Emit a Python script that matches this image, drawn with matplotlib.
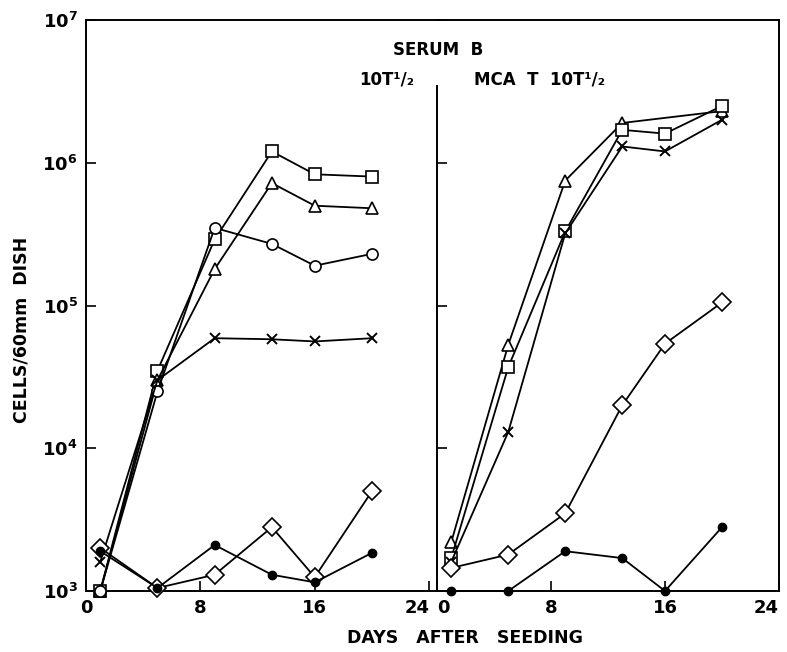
"""Growth curves of 10T1/2 and MCA T 10T1/2 cells in serum B."""

import matplotlib

matplotlib.use("Agg")
import matplotlib.pyplot as plt
import numpy as np

days = [1, 5, 9, 13, 16, 20]
days_no16 = [1, 5, 9, 13, 20]

# 10T1/2 panel
left_square = [1.0e3, 3.5e4, 2.9e5, 1.2e6, 8.3e5, 8.0e5]
left_triangle = [1.0e3, 3.0e4, 1.8e5, 7.2e5, 5.0e5, 4.8e5]
left_circle = [1.0e3, 2.5e4, 3.5e5, 2.7e5, 1.9e5, 2.3e5]
left_cross = [1.6e3, 3.0e4, 5.9e4, 5.8e4, 5.6e4, 5.9e4]
left_diamond = [2.0e3, 1.05e3, 1.3e3, 2.8e3, 1.25e3, 5.0e3]
left_filled = [1.9e3, 1.05e3, 2.1e3, 1.3e3, 1.15e3, 1.85e3]

# MCA T 10T1/2 panel
right_triangle = [2.2e3, 5.3e4, 7.5e5, 1.9e6, 2.3e6]
right_square = [1.7e3, 3.7e4, 3.3e5, 1.7e6, 1.6e6, 2.5e6]
right_cross = [1.6e3, 1.3e4, 3.2e5, 1.3e6, 1.2e6, 2.0e6]
right_diamond = [1.45e3, 1.8e3, 3.5e3, 2.0e4, 5.4e4, 1.05e5]
right_filled = [1.0e3, 1.0e3, 1.9e3, 1.7e3, 1.0e3, 2.8e3]

x_ticks = [0, 8, 16, 24]
y_ticks = [1e3, 1e4, 1e5, 1e6, 1e7]
y_tick_labels = [r"$\mathbf{10^{3}}$", r"$\mathbf{10^{4}}$", r"$\mathbf{10^{5}}$",
                 r"$\mathbf{10^{6}}$", r"$\mathbf{10^{7}}$"]

LW = 1.3
open_style = dict(color="black", lw=LW, markerfacecolor="white",
                  markeredgecolor="black", markeredgewidth=1.2, clip_on=False, zorder=3)
cross_style = dict(marker="x", ms=7, color="black", lw=LW, mew=1.4, clip_on=False, zorder=3)
dot_style = dict(marker="o", ms=6, color="black", lw=LW, clip_on=False, zorder=3)

fig = plt.figure(figsize=(7.87, 6.52), dpi=100)
W, H = 787, 652
x0, xd, x1 = 86, 437, 779
y_top, y_bot = 20, 591
ax_l = fig.add_axes([x0 / W, 1 - y_bot / H, (xd - x0) / W, (y_bot - y_top) / H])
ax_r = fig.add_axes([xd / W, 1 - y_bot / H, (x1 - xd) / W, (y_bot - y_top) / H])

for ax in (ax_l, ax_r):
    ax.set_yscale("log")
    ax.set_ylim(1e3, 1e7)
    ax.set_yticks(y_ticks)
    ax.yaxis.set_minor_locator(matplotlib.ticker.NullLocator())
    ax.set_xticks(x_ticks)
    ax.set_xticklabels([str(t) for t in x_ticks], fontweight="bold")
    ax.tick_params(direction="in", length=7, width=1.2, labelsize=13, pad=6)
    for s in ax.spines.values():
        s.set_linewidth(1.4)

ax_l.set_xlim(0, 24.55)
ax_r.set_xlim(0, 24)
ax_l.spines["right"].set_visible(False)
ax_r.spines["left"].set_visible(False)
ax_l.set_yticklabels(y_tick_labels)
ax_r.tick_params(axis="y", labelleft=False)

# divider between the panels stops below the panel captions
ax_r.plot([0, 0], [1e3, 10 ** 6.54], color="black", lw=1.4, clip_on=False, zorder=4)

# 10T1/2
ax_l.plot(days, left_square, marker="s", ms=9, **open_style)
ax_l.plot(days, left_triangle, marker="^", ms=8, **open_style)
ax_l.plot(days, left_circle, marker="o", ms=8, **open_style)
ax_l.plot(days, left_cross, **cross_style)
ax_l.plot(days, left_diamond, marker="D", ms=9, **open_style)
ax_l.plot(days, left_filled, **dot_style)

# MCA T 10T1/2
ax_r.plot(days_no16, right_triangle, marker="^", ms=8, **open_style)
ax_r.plot(days, right_square, marker="s", ms=9, **open_style)
ax_r.plot(days, right_cross, **cross_style)
ax_r.plot(days, right_diamond, marker="D", ms=9, **open_style)
ax_r.plot(days, right_filled, **dot_style)

# keep "24" and "0" at the panel junction from running together
ax_l.get_xticklabels()[-1].set_horizontalalignment("right")
ax_r.get_xticklabels()[0].set_horizontalalignment("left")
ax_r.get_xticklabels()[-1].set_horizontalalignment("right")

text_kw = dict(ha="center", va="center", fontsize=12, fontweight="bold")
fig.text(438 / W, 1 - 50 / H, "SERUM  B", **text_kw)
fig.text(387 / W, 1 - 80 / H, "10T¹/₂", **text_kw)
fig.text(539 / W, 1 - 80 / H, "MCA  T  10T¹/₂", **text_kw)
fig.text(22 / W, 1 - 330 / H, "CELLS/60mm  DISH", rotation=90,
         **{**text_kw, "fontsize": 12.5})
fig.text(465 / W, 1 - 638 / H, "DAYS   AFTER   SEEDING", **{**text_kw, "fontsize": 12.5})

fig.savefig("out.png", dpi=100)
